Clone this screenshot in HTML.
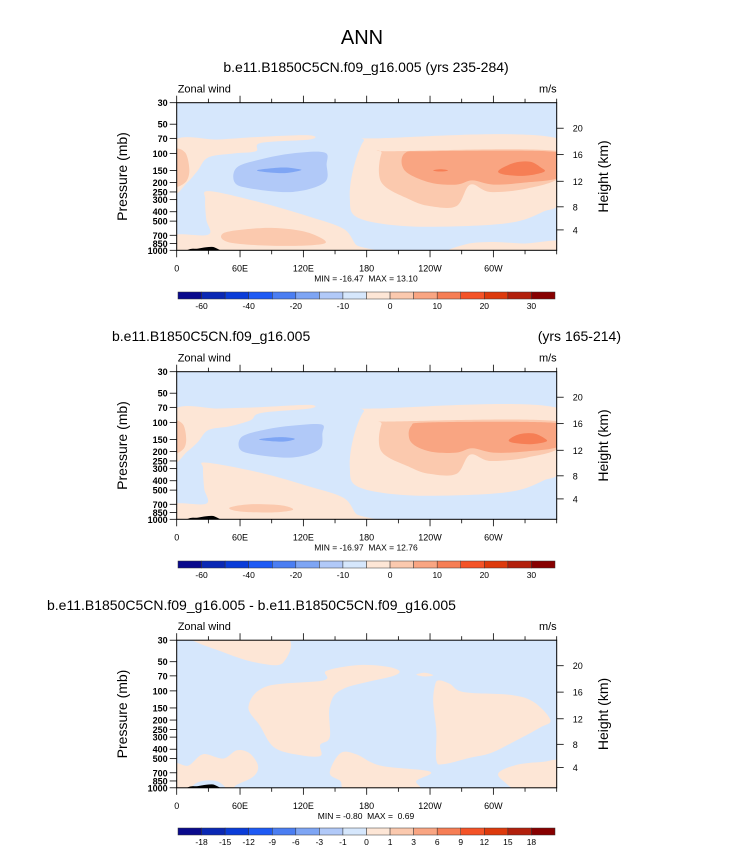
<!DOCTYPE html>
<html><head><meta charset="utf-8">
<style>
body{margin:0;background:#fff;}
svg{display:block;font-family:"Liberation Sans",Arial,sans-serif;}
</style></head>
<body>
<svg id="chart" width="733" height="867" viewBox="0 0 733 867">
<text x="362" y="44" font-size="20" text-anchor="middle">ANN</text>
<text x="366" y="72" font-size="14" text-anchor="middle">b.e11.B1850C5CN.f09_g16.005 (yrs 235-284)</text>
<text x="112" y="341" font-size="14">b.e11.B1850C5CN.f09_g16.005</text>
<text x="621" y="341" font-size="14" text-anchor="end">(yrs 165-214)</text>
<text x="47" y="610" font-size="14">b.e11.B1850C5CN.f09_g16.005 - b.e11.B1850C5CN.f09_g16.005</text>
</svg>
<script>
// ---------- data ----------
const lonTicks = [0, 60, 120, 180, 240, 300];
const lonLabels = ["0", "60E", "120E", "180", "120W", "60W"];
const presTicks = [30, 50, 70, 100, 150, 200, 250, 300, 400, 500, 700, 850, 1000];
const heightTicks = [4, 8, 12, 16, 20];
const heightPres = [616, 356, 194, 103, 55];
const cbColors = ["#0a0a8c","#0a28b4","#0a3cd8","#1e5af4","#4b7ef2","#7ea5f4","#b1c9f8","#d6e7fc","#fde6d6","#fbc9ae","#f9a582","#f67e55","#f45327","#dd3a0c","#b2200c","#870000"];
const cbLabels12 = ["-60","-40","-20","-10","0","10","20","30"];
const cbLabels3 = ["-18","-15","-12","-9","-6","-3","-1","0","1","3","6","9","12","15","18"];
const minMax = ["MIN = -16.47\u00a0\u00a0MAX = 13.10","MIN = -16.97\u00a0\u00a0MAX = 12.76","MIN = -0.80\u00a0\u00a0MAX =\u00a0\u00a00.69"];
const topo = [[8,1080],[12,975],[20,960],[28,930],[36,935],[42,1080]];

const p1Shapes = [
 {lev:8, pts:[[-3,75],[40,72],[75,68],[125,65],[126,72],[80,78],[75,95],[55,100],[30,110],[20,150],[10,200],[-3,250]]},
 {lev:9, pts:[[-3,95],[8,98],[12,150],[8,200],[-3,210]]},
 {lev:8, pts:[[31,245],[79,320],[126,450],[158,600],[170,880],[180,1060],[-3,1060],[-3,700],[30,690],[28,480],[27,300]]},
 {lev:9, pts:[[45,660],[80,590],[110,610],[130,690],[140,850],[100,900],[50,830]]},
 {lev:8, pts:[[177,75],[189,70],[363,71],[363,300],[347,400],[316,520],[253,570],[205,550],[170,450],[164,290],[167,150]]},
 {lev:8, pts:[[262,1060],[275,860],[300,820],[330,850],[363,800],[363,1060]]},
 {lev:9, pts:[[194,100],[205,95],[363,95],[363,175],[332,230],[297,250],[278,210],[265,350],[240,350],[221,300],[194,200]]},
 {lev:10, pts:[[216,100],[240,95],[350,95],[363,110],[363,175],[330,200],[300,210],[280,190],[265,210],[240,200],[216,150]]},
 {lev:11, pts:[[305,150],[320,125],[335,122],[345,140],[348,155],[330,170],[310,165]]},
 {lev:11, pts:[[243,150],[250,146],[257,150],[250,154]]},
 {lev:6, pts:[[55,200],[57,140],[80,115],[110,100],[140,98],[142,130],[140,200],[110,250],[70,230]]},
 {lev:5, pts:[[76,150],[100,140],[115,145],[117,150],[100,160]]}
];
const p2Shapes = [
 {lev:8, pts:[[-3,75],[40,72],[75,70],[125,66],[126,72],[80,80],[70,95],[50,110],[30,120],[20,160],[10,200],[-3,250]]},
 {lev:9, pts:[[-3,100],[6,105],[9,150],[6,190],[-3,200]]},
 {lev:8, pts:[[28,260],[79,330],[126,460],[158,600],[170,880],[180,1060],[-3,1060],[-3,700],[28,690],[26,480],[25,300]]},
 {lev:9, pts:[[50,760],[70,700],[100,720],[110,800],[90,850],[60,830]]},
 {lev:8, pts:[[177,78],[189,72],[363,72],[363,300],[347,400],[316,520],[253,570],[205,550],[170,450],[164,290],[167,150]]},
 {lev:9, pts:[[194,105],[205,98],[363,98],[363,180],[332,230],[297,250],[278,215],[265,340],[240,340],[221,290],[194,200]]},
 {lev:10, pts:[[222,110],[240,100],[350,100],[363,115],[363,175],[330,200],[300,205],[280,185],[265,205],[240,200],[222,160]]},
 {lev:11, pts:[[315,150],[325,132],[338,130],[348,145],[350,158],[335,168],[318,162]]},
 {lev:6, pts:[[60,190],[62,140],[85,118],[110,108],[137,105],[138,130],[135,190],[110,230],[75,215]]},
 {lev:5, pts:[[78,150],[98,142],[112,148],[100,158]]}
];
const p3Shapes = [
 {lev:8, pts:[[13,27],[101,27],[101,51],[79,52],[47,41]]},
 {lev:8, pts:[[68,145],[85,90],[139,78],[142,62],[174,54],[205,58],[207,69],[158,95],[145,145],[145,300],[136,360],[136,470],[114,455],[92,380],[79,230]]},
 {lev:8, pts:[[245,85],[249,78],[259,85],[272,103],[316,110],[338,130],[354,200],[344,240],[316,350],[297,440],[278,490],[253,570],[246,520],[246,260],[243,130]]},
 {lev:8, pts:[[-3,570],[11,590],[25,450],[44,500],[57,410],[69,440],[77,590],[73,760],[57,930],[47,1060],[-3,1060]]},
 {lev:7, pts:[[18,900],[28,840],[40,870],[45,1060],[15,1060]]},
 {lev:8, pts:[[145,700],[155,440],[170,450],[193,590],[240,680],[227,850],[227,1060],[164,1060],[155,850]]},
 {lev:8, pts:[[305,700],[322,580],[347,540],[363,540],[363,1060],[325,1060],[310,860]]},
 {lev:8, pts:[[227,68],[235,65],[243,69],[235,71]]}
];

// ---------- drawing ----------
const NS = "http://www.w3.org/2000/svg";
const svg = document.getElementById("chart");
function mk(tag, attrs, parent){ const e=document.createElementNS(NS,tag); for(const k in attrs) e.setAttribute(k,attrs[k]); (parent||svg).appendChild(e); return e; }
const X0=176.7, X1=556.7, H=147.6;
function xScale(lon){ return X0 + (lon/360)*(X1-X0); }
function yScaleFor(top){ return p => top + H*Math.log(p/30)/Math.log(1000/30); }
function smoothPath(pts){
  const n=pts.length; let d=`M${pts[0][0]},${pts[0][1]}`;
  for(let i=0;i<n;i++){
    const p0=pts[(i-1+n)%n],p1=pts[i],p2=pts[(i+1)%n],p3=pts[(i+2)%n];
    const c1=[p1[0]+(p2[0]-p0[0])/6,p1[1]+(p2[1]-p0[1])/6];
    const c2=[p2[0]-(p3[0]-p1[0])/6,p2[1]-(p3[1]-p1[1])/6];
    d+=`C${c1[0]},${c1[1]} ${c2[0]},${c2[1]} ${p2[0]},${p2[1]}`;
  }
  return d+"Z";
}
function drawPanel(idx, top, shapes, cbY, labels){
  const y=yScaleFor(top), bottom=top+H;
  const g=mk("g",{});
  
  
  const cp=mk("clipPath",{id:"clip"+idx},g);
  mk("rect",{x:X0,y:top,width:X1-X0,height:H},cp);
  const bg=mk("rect",{x:X0,y:top,width:X1-X0,height:H,fill:cbColors[7]},g);
  
  
  const cg=mk("g",{"clip-path":`url(#clip${idx})`},g);
  shapes.forEach(s=>{
    const pts=s.pts.map(q=>[xScale(q[0]),y(q[1])]);
    const el=mk("path",{d:smoothPath(pts),fill:cbColors[s.lev]},cg);
    
    
  });
  const tp=mk("path",{d:smoothPath(topo.map(q=>[xScale(q[0]),y(q[1])])),fill:"#000"},cg);
  
  
  const fr=mk("rect",{x:X0,y:top,width:X1-X0,height:H,fill:"none",stroke:"#000","stroke-width":1},g);
  
  
  for(let lon=0;lon<=360;lon+=30){
    const major=lonTicks.includes(lon), x=xScale(lon);
    mk("line",{x1:x,x2:x,y1:top,y2:top-(major?7:4),stroke:"#000","stroke-width":0.8},g);
    mk("line",{x1:x,x2:x,y1:bottom,y2:bottom+(major?7:4),stroke:"#000","stroke-width":0.8},g);
  }
  lonTicks.forEach((lon,i)=>{
    const t=mk("text",{x:xScale(lon),y:bottom+21,"font-size":9,"text-anchor":"middle"},g);
    t.textContent=lonLabels[i];
    
    
  });
  presTicks.forEach(p=>{
    mk("line",{x1:X0,x2:X0-7,y1:y(p),y2:y(p),stroke:"#000","stroke-width":0.8},g);
    const t=mk("text",{x:X0-9,y:y(p)+3.5,"font-size":9,"text-anchor":"end","font-weight":"bold"},g);
    t.textContent=p;
    
    
  });
  heightTicks.forEach((h,i)=>{
    const yy=y(heightPres[i]);
    mk("line",{x1:X1,x2:X1+7,y1:yy,y2:yy,stroke:"#000","stroke-width":0.8},g);
    const t=mk("text",{x:X1+16,y:yy+3.5,"font-size":9},g);
    t.textContent=h;
    
    
  });
  const yl=mk("text",{x:0,y:0,"font-size":14,"text-anchor":"middle",transform:`translate(127,${top+H/2}) rotate(-90)`},g);
  yl.textContent="Pressure (mb)";
  
  
  const yr=mk("text",{x:0,y:0,"font-size":14,"text-anchor":"middle",transform:`translate(608,${top+H/2}) rotate(-90)`},g);
  yr.textContent="Height (km)";
  
  
  const zl=mk("text",{x:X0+1,y:top-10,"font-size":11},g);
  zl.textContent="Zonal wind";
  
  
  const ul=mk("text",{x:X1,y:top-10,"font-size":11,"text-anchor":"end"},g);
  ul.textContent="m/s";
  
  
  const mm=mk("text",{x:366,y:bottom+31,"font-size":8.5,"text-anchor":"middle"},g);
  mm.textContent=minMax[idx];
  
  
  const cbx0=178, cbw=(555-178)/16;
  const cb=mk("g",{},g);
  
  
  cbColors.forEach((c,i)=>{
    const r=mk("rect",{x:cbx0+i*cbw,y:cbY,width:cbw,height:7,fill:c,stroke:"#333","stroke-width":0.5},cb);
    
    
  });
  labels.forEach((l,i)=>{
    const b = labels.length===15 ? i+1 : 2*i+1;
    const t=mk("text",{x:cbx0+b*cbw,y:cbY+17,"font-size":8.5,"text-anchor":"middle"},cb);
    t.textContent=l;
    
    
  });
}
drawPanel(0,102.7,p1Shapes,292,cbLabels12);
drawPanel(1,371.7,p2Shapes,561,cbLabels12);
drawPanel(2,640.2,p3Shapes,828,cbLabels3);
</script>
</body></html>
